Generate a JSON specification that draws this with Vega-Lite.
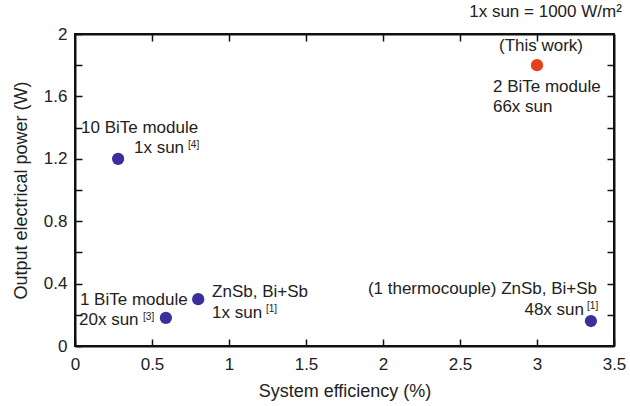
{
  "$schema": "https://vega.github.io/schema/vega-lite/v6.json",
  "width": 539,
  "height": 312,
  "autosize": "none",
  "padding": {"left": 75, "top": 34, "right": 16, "bottom": 60},
  "config": {
    "view": {"stroke": "#111", "strokeWidth": 2},
    "font": "Liberation Sans",
    "axis": {"grid": false, "domainColor": "#111", "domainWidth": 2, "tickColor": "#111", "tickWidth": 1.5, "labelColor": "#222", "titleColor": "#222", "labelFont": "Liberation Sans", "titleFont": "Liberation Sans", "labelFontSize": 17, "titleFontSize": 18, "titleFontWeight": "normal"}
  },
  "title": {"text": "1x sun = 1000 W/m²", "anchor": "end", "fontSize": 17, "fontWeight": "normal", "color": "#222", "offset": 4, "dx": -4, "font": "Liberation Sans"},
  "datasets": {
    "pts": [
      {"eff": 0.28, "power": 1.2, "group": "ref"},
      {"eff": 0.59, "power": 0.18, "group": "ref"},
      {"eff": 0.8, "power": 0.3, "group": "ref"},
      {"eff": 3.35, "power": 0.16, "group": "ref"},
      {"eff": 3.0, "power": 1.8, "group": "this"}
    ],
    "leftLabels": [
      {"eff": 0.039, "power": 1.397, "label": "10 BiTe module"},
      {"eff": 0.383, "power": 1.269, "label": "1x sun"},
      {"eff": 0.032, "power": 0.295, "label": "1 BiTe module"},
      {"eff": 0.026, "power": 0.167, "label": "20x sun"},
      {"eff": 0.89, "power": 0.346, "label": "ZnSb, Bi+Sb"},
      {"eff": 0.89, "power": 0.212, "label": "1x sun"},
      {"eff": 2.714, "power": 1.66, "label": "2 BiTe module"},
      {"eff": 2.714, "power": 1.532, "label": "66x sun"}
    ],
    "rightLabels": [
      {"eff": 3.39, "power": 0.365, "label": "(1 thermocouple) ZnSb, Bi+Sb"},
      {"eff": 3.305, "power": 0.231, "label": "48x sun"}
    ],
    "centerLabels": [
      {"eff": 3.026, "power": 1.923, "label": "(This work)"}
    ],
    "sups": [
      {"eff": 0.734, "power": 1.288, "label": "[4]"},
      {"eff": 0.442, "power": 0.186, "label": "[3]"},
      {"eff": 1.24, "power": 0.237, "label": "[1]"},
      {"eff": 3.325, "power": 0.256, "label": "[1]"}
    ]
  },
  "resolve": {"axis": {"x": "independent", "y": "independent"}},
  "layer": [
    {
      "data": {"name": "pts"},
      "mark": {"type": "point", "filled": true, "opacity": 1, "size": 150, "shape": "circle"},
      "encoding": {
        "x": {"field": "eff", "type": "quantitative", "scale": {"domain": [0, 3.5], "nice": false}, "axis": {"orient": "bottom", "title": "System efficiency (%)", "values": [0, 0.5, 1, 1.5, 2, 2.5, 3, 3.5], "format": "~g", "tickSize": -7, "labelPadding": 17, "titlePadding": 10, "labelFlush": false}},
        "y": {"field": "power", "type": "quantitative", "scale": {"domain": [0, 2], "nice": false}, "axis": {"orient": "left", "title": "Output electrical power (W)", "values": [0, 0.2, 0.4, 0.6, 0.8, 1, 1.2, 1.4, 1.6, 1.8, 2], "labelExpr": "round(datum.value*10) % 4 == 0 ? format(datum.value, '~g') : ''", "tickSize": -7, "labelPadding": 15, "titlePadding": 13, "labelFlush": false}},
        "color": {"field": "group", "type": "nominal", "scale": {"domain": ["ref", "this"], "range": ["#3b2f9e", "#e5401b"]}, "legend": null}
      }
    },
    {
      "data": {"name": "pts"},
      "mark": {"type": "point", "opacity": 0},
      "encoding": {
        "x": {"field": "eff", "type": "quantitative", "axis": {"orient": "top", "title": null, "labels": false, "values": [0.5, 1, 1.5, 2, 2.5, 3], "tickSize": -7}},
        "y": {"field": "power", "type": "quantitative", "axis": {"orient": "right", "title": null, "labels": false, "values": [0.2, 0.4, 0.6, 0.8, 1, 1.2, 1.4, 1.6, 1.8], "tickSize": -7}}
      }
    },
    {
      "data": {"name": "leftLabels"},
      "mark": {"type": "text", "align": "left", "baseline": "middle", "fontSize": 17, "color": "#222"},
      "encoding": {
        "x": {"field": "eff", "type": "quantitative", "axis": null},
        "y": {"field": "power", "type": "quantitative", "axis": null},
        "text": {"field": "label"}
      }
    },
    {
      "data": {"name": "rightLabels"},
      "mark": {"type": "text", "align": "right", "baseline": "middle", "fontSize": 17, "color": "#222"},
      "encoding": {
        "x": {"field": "eff", "type": "quantitative", "axis": null},
        "y": {"field": "power", "type": "quantitative", "axis": null},
        "text": {"field": "label"}
      }
    },
    {
      "data": {"name": "centerLabels"},
      "mark": {"type": "text", "align": "center", "baseline": "middle", "fontSize": 17, "color": "#222"},
      "encoding": {
        "x": {"field": "eff", "type": "quantitative", "axis": null},
        "y": {"field": "power", "type": "quantitative", "axis": null},
        "text": {"field": "label"}
      }
    },
    {
      "data": {"name": "sups"},
      "mark": {"type": "text", "align": "left", "baseline": "middle", "fontSize": 10, "color": "#222"},
      "encoding": {
        "x": {"field": "eff", "type": "quantitative", "axis": null},
        "y": {"field": "power", "type": "quantitative", "axis": null},
        "text": {"field": "label"}
      }
    }
  ]
}
